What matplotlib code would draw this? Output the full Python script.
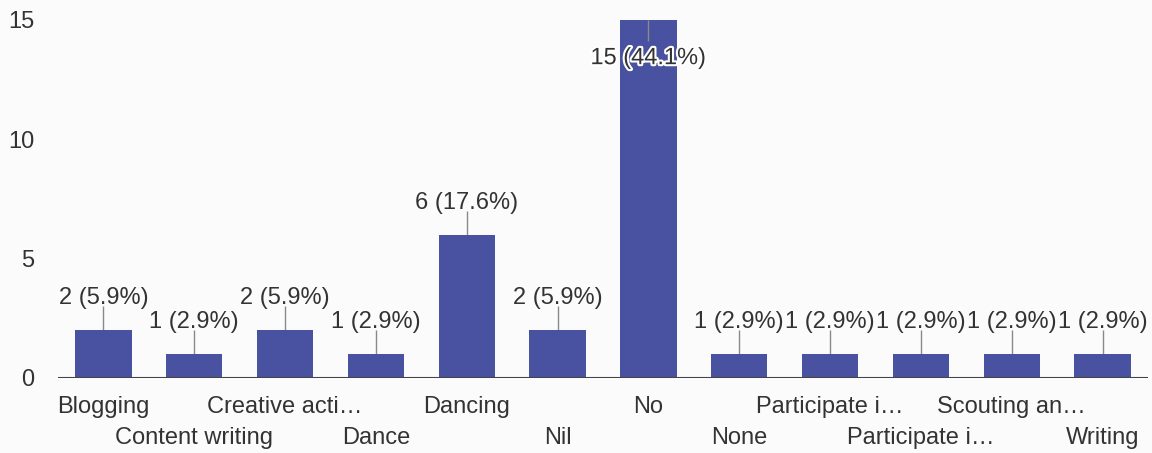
import matplotlib.pyplot as plt
import matplotlib.patheffects as pe
import numpy as np

# respuestas de la encuesta
categories = ['Blogging', 'Content writing', 'Creative acti…', 'Dance', 'Dancing', 'Nil',
              'No', 'None', 'Participate i…', 'Participate i…', 'Scouting an…', 'Writing']
counts = [2, 1, 2, 1, 6, 2, 15, 1, 1, 1, 1, 1]
percents = [5.9, 2.9, 5.9, 2.9, 17.6, 5.9, 44.1, 2.9, 2.9, 2.9, 2.9, 2.9]
yticks = [0, 5, 10, 15]

plt.rcParams['font.family'] = ['Liberation Sans', 'DejaVu Sans']

bar_color = '#4852a0'
text_color = '#333333'
line_color = '#8a8a8a'

fig = plt.figure(figsize=(11.52, 4.53), dpi=100, facecolor='#fbfbfb')
ax = fig.add_axes([0.0503, 0.1656, 0.9462, 0.7903])
ax.set_facecolor('#fbfbfb')

x = np.arange(len(categories))
ax.bar(x, counts, width=0.62, color=bar_color, zorder=2)
ax.axhline(0, color='#444444', lw=1.5, zorder=3)

ymax = max(yticks)
for i in range(len(counts)):
    v = counts[i]
    label = f'{v} ({percents[i]}%)'
    if v >= ymax:
        # no hay lugar arriba, va dentro de la barra
        ax.vlines(i, v - 0.9, v, color=line_color, lw=1, zorder=3)
        ax.text(i, v - 1.6, label, ha='center', va='center', fontsize=17,
                color=text_color, zorder=4,
                path_effects=[pe.withStroke(linewidth=3, foreground='white')])
    else:
        ax.vlines(i, v, v + 1.0, color=line_color, lw=1, zorder=1)
        ax.text(i, v + 0.88, label, ha='center', va='bottom', fontsize=17,
                color=text_color)

ax.set_xlim(-0.5, len(categories) - 0.5)
ax.set_ylim(0, ymax)
ax.set_yticks(yticks)
ax.set_xticks(x, categories)
ax.tick_params(axis='both', length=0, labelsize=17, labelcolor=text_color)
ax.tick_params(axis='y', pad=17)
for i, t in enumerate(ax.xaxis.get_major_ticks()):
    t.set_pad(13 if i % 2 == 0 else 35)

for s in ax.spines.values():
    s.set_visible(False)

fig.savefig('out.png', dpi=100, facecolor=fig.get_facecolor())
